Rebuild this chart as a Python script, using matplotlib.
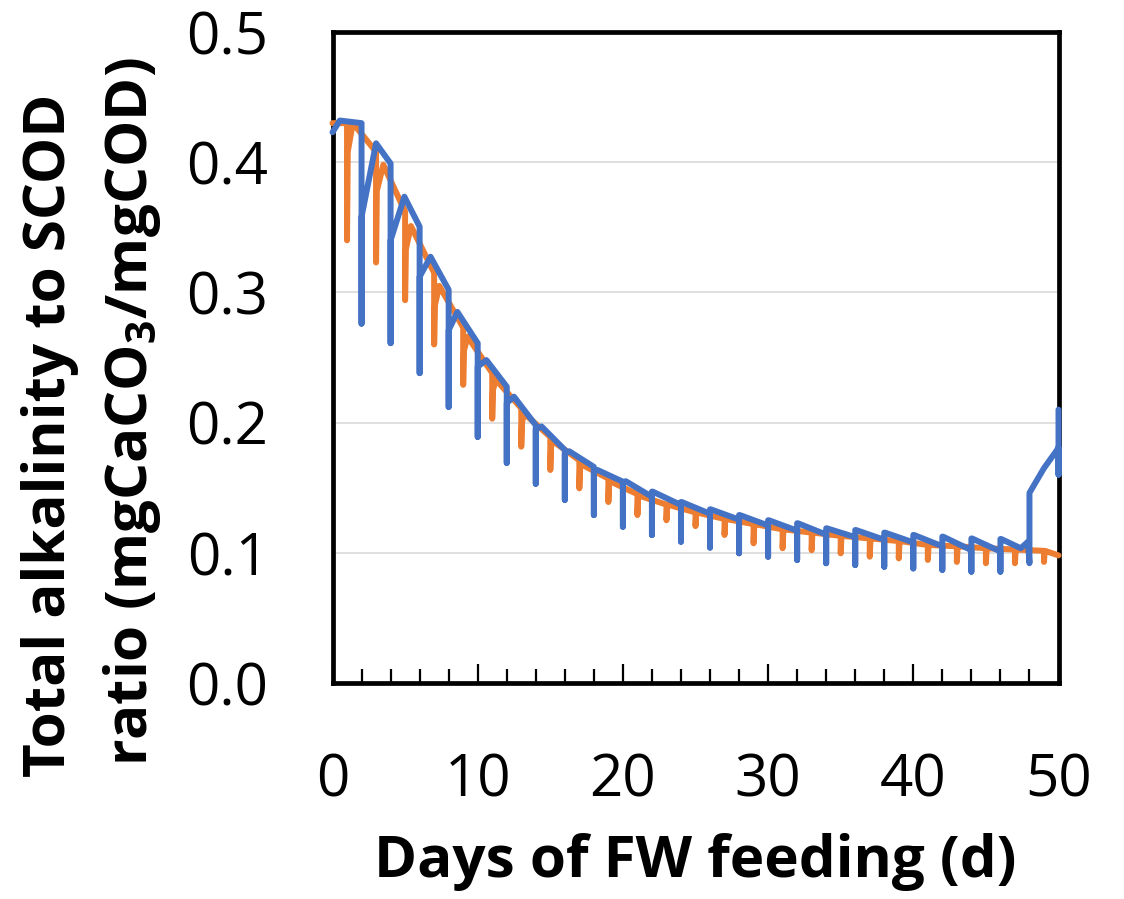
import matplotlib
matplotlib.use("Agg")
import matplotlib.pyplot as plt
from matplotlib.ticker import MultipleLocator, FormatStrFormatter

plt.rcParams['font.family'] = ['Open Sans', 'DejaVu Sans']
plt.rcParams['mathtext.fontset'] = 'custom'
plt.rcParams['mathtext.rm'] = 'Open Sans:bold'
plt.rcParams['mathtext.default'] = 'rm'

# ---------------- data ----------------
# Blue series: feeding drops at even days
blue_start_x = [0.0, 0.5]
blue_start_y = [0.423, 0.432]
blue_drop_day = [2, 4, 6, 8, 10, 12, 14, 16, 18, 20, 22, 24, 26, 28, 30, 32, 34, 36, 38, 40, 42, 44, 46]
blue_pre = [0.430, 0.399, 0.3505, 0.302, 0.261, 0.2276, 0.198, 0.179, 0.166, 0.1546, 0.143, 0.1367,
            0.130, 0.1255, 0.121, 0.117, 0.114, 0.112, 0.110, 0.108, 0.105, 0.102, 0.101]
blue_low = [0.276, 0.261, 0.238, 0.212, 0.189, 0.169, 0.153, 0.1406, 0.129, 0.120, 0.1137, 0.1085,
            0.104, 0.0996, 0.097, 0.0945, 0.092, 0.0906, 0.0893, 0.088, 0.0868, 0.0855, 0.0855]
blue_rebound = [0.358, 0.340, 0.312, 0.271, 0.243, 0.215, 0.195, 0.176, 0.163, 0.154, 0.147, 0.139,
                0.1334, 0.129, 0.125, 0.1227, 0.1188, 0.1175, 0.1155, 0.1137, 0.1124, 0.111, 0.1106]
blue_peak = [0.4145, 0.3735, 0.3274, 0.285, 0.248, 0.2199, 0.197, 0.178, 0.1636, 0.155, 0.147, 0.139,
             0.1334, 0.129, 0.125, 0.1227, 0.1188, 0.1175, 0.1155, 0.1137, 0.1124, 0.111, 0.1106]
blue_peak_dt = [1.0, 0.95, 0.75, 0.6, 0.6, 0.5, 0.4, 0.3, 0.25, 0.2, 0.05, 0.05,
                0.05, 0.05, 0.05, 0.05, 0.05, 0.05, 0.05, 0.05, 0.05, 0.05, 0.05]
blue_end_x = [47.4, 47.9, 48.0, 48.0, 49.0, 49.9, 50.0, 50.0, 50.0]
blue_end_y = [0.1035, 0.1085, 0.092, 0.146, 0.165, 0.179, 0.181, 0.160, 0.210]

# Orange series: feeding drops at odd days
orange_start_x = [0.0]
orange_start_y = [0.430]
orange_drop_day = [1, 3, 5, 7, 9, 11, 13, 15, 17, 19, 21, 23, 25, 27, 29, 31, 33, 35, 37, 39, 41, 43, 45, 47, 49]
orange_pre = [0.430, 0.408, 0.362, 0.315, 0.273, 0.238, 0.211, 0.189, 0.171, 0.157, 0.145, 0.137, 0.131,
              0.126, 0.122, 0.118, 0.1155, 0.113, 0.111, 0.109, 0.106, 0.105, 0.1035, 0.1025, 0.1015]
orange_low = [0.340, 0.323, 0.294, 0.260, 0.229, 0.203, 0.1815, 0.1636, 0.1495, 0.139, 0.129, 0.125, 0.1205,
              0.1137, 0.1073, 0.1035, 0.102, 0.0996, 0.097, 0.0957, 0.0945, 0.093, 0.092, 0.092, 0.093]
orange_knee = [0.408, 0.378, 0.333, 0.290, 0.255, 0.225, 0.200, 0.181, 0.166, 0.154, 0.143, 0.136, 0.130,
               0.125, 0.121, 0.117, 0.1145, 0.112, 0.110, 0.108, 0.105, 0.104, 0.103, 0.102, 0.101]
orange_peak = [0.430, 0.398, 0.351, 0.305, 0.266, 0.233, 0.207, 0.186, 0.168, 0.155, 0.144, 0.137, 0.131,
               0.126, 0.122, 0.118, 0.1155, 0.113, 0.111, 0.109, 0.106, 0.105, 0.1035, 0.1025, 0.1015]
orange_peak_dt = [0.4, 0.5, 0.4, 0.35, 0.3, 0.25, 0.2, 0.15, 0.12, 0.1, 0.09, 0.08, 0.08,
                  0.08, 0.08, 0.08, 0.08, 0.08, 0.08, 0.08, 0.08, 0.08, 0.08, 0.08, 0.08]
orange_end_x = [50.0]
orange_end_y = [0.098]

x_ticks = [0, 10, 20, 30, 40, 50]
y_ticks = [0.0, 0.1, 0.2, 0.3, 0.4, 0.5]

BLUE = '#4472C4'
ORANGE = '#ED7D31'


def build_blue():
    xs, ys = list(blue_start_x), list(blue_start_y)
    for d, p, lo, rb, pk, dt in zip(blue_drop_day, blue_pre, blue_low, blue_rebound, blue_peak, blue_peak_dt):
        xs += [d, d, d, d + dt]
        ys += [p, lo, rb, pk]
    xs += blue_end_x
    ys += blue_end_y
    return xs, ys


def build_orange():
    xs, ys = list(orange_start_x), list(orange_start_y)
    for d, p, lo, kn, pk, dt in zip(orange_drop_day, orange_pre, orange_low, orange_knee, orange_peak, orange_peak_dt):
        xs += [d, d, d + 0.05, d + dt]
        ys += [p, lo, kn, pk]
    xs += orange_end_x
    ys += orange_end_y
    return xs, ys


fig = plt.figure(figsize=(11.24, 8.99), dpi=100)
ax = fig.add_axes([332.5 / 1124, 1 - 683 / 899, (1058.5 - 332.5) / 1124, (683 - 32) / 899])

ox, oy = build_orange()
bx, by = build_blue()
lw = 4.3
ax.plot(ox, oy, color=ORANGE, lw=lw, solid_capstyle='round', solid_joinstyle='round', zorder=3, clip_on=False)
ax.plot(bx, by, color=BLUE, lw=lw, solid_capstyle='round', solid_joinstyle='round', zorder=4, clip_on=False)

ax.set_xlim(0, 50)
ax.set_ylim(0, 0.5)
ax.set_xticks(x_ticks)
ax.set_yticks(y_ticks)
ax.xaxis.set_minor_locator(MultipleLocator(2))
ax.yaxis.set_major_formatter(FormatStrFormatter('%.1f'))
ax.grid(axis='y', color='#D9D9D9', lw=1.2, zorder=0)
ax.set_axisbelow(True)

for s in ax.spines.values():
    s.set_linewidth(3.4)
    s.set_color('black')
    s.set_zorder(2)

ax.tick_params(axis='x', which='major', direction='in', length=14, width=1.6, pad=50,
               labelsize=42, top=False)
ax.tick_params(axis='x', which='minor', direction='in', length=10, width=1.6, top=False)
ax.tick_params(axis='y', which='both', length=0, pad=46, labelsize=42, right=False)

fig.text(332.5 / 1124 + (1058.5 - 332.5) / 1124 / 2, 1 - 862 / 899, 'Days of FW feeding (d)',
         ha='center', va='center', fontsize=42, fontweight='bold')
fig.text(50 / 1124, 1 - 435 / 899, 'Total alkalinity to SCOD', rotation=90,
         ha='center', va='center', fontsize=42, fontweight='bold')
fig.text(132 / 1124, 1 - 412 / 899, r'ratio (mgCaCO$_3$/mgCOD)', rotation=90,
         ha='center', va='center', fontsize=42, fontweight='bold')

fig.savefig('out.png', dpi=100)
